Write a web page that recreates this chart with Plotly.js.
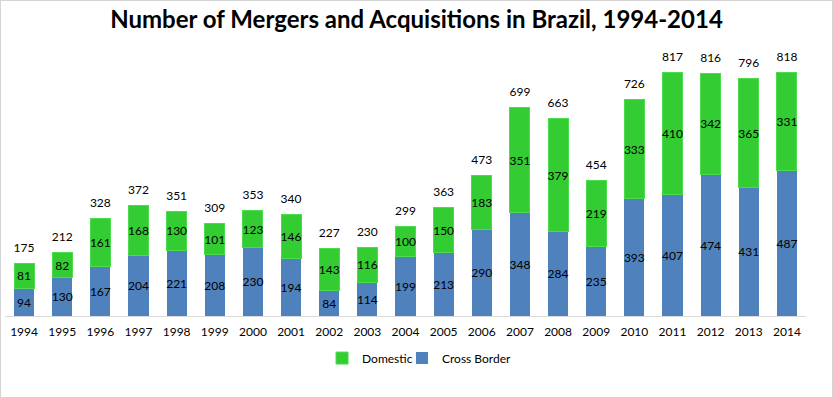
<!DOCTYPE html>
<html>
<head>
<meta charset="utf-8">
<script src="https://cdn.plot.ly/plotly-3.0.1.min.js"></script>
<style>
html,body{margin:0;padding:0;background:#fff;}
#frame{position:absolute;left:0;top:0;width:831px;height:396px;border:1px solid #d4d4d4;pointer-events:none;}
#chart{width:833px;height:398px;}
</style>
</head>
<body>
<div id="chart"></div>
<div id="frame"></div>
<script>
const years = ['1994','1995','1996','1997','1998','1999','2000','2001','2002','2003','2004','2005','2006','2007','2008','2009','2010','2011','2012','2013','2014'];
const crossBorder = [94,130,167,204,221,208,230,194,84,114,199,213,290,348,284,235,393,407,474,431,487];
const domestic = [81,82,161,168,130,101,123,146,143,116,100,150,183,351,379,219,333,410,342,365,331];
const totals = [175,212,328,372,351,309,353,340,227,230,299,363,473,699,663,454,726,817,816,796,818];

const FONT = 'Lato, "Open Sans", sans-serif';

const traces = [
  {
    type: 'bar', name: 'Cross Border', x: years, y: crossBorder, legend: 'legend2',
    marker: {color: '#4f81bd'},
    text: crossBorder.map(String), textposition: 'inside', insidetextanchor: 'middle',
    constraintext: 'none',
    textangle: 0, textfont: {color: '#000', size: 12, family: FONT},
    hoverinfo: 'skip'
  },
  {
    type: 'bar', name: 'Domestic', x: years, y: domestic, legend: 'legend',
    marker: {color: '#33cc33', line: {color: '#4ddc4d', width: 1}},
    text: domestic.map(String), textposition: 'inside', insidetextanchor: 'middle',
    constraintext: 'none',
    textangle: 0, textfont: {color: '#000', size: 12, family: FONT},
    hoverinfo: 'skip'
  },
  {
    type: 'scatter', mode: 'markers+text', x: years, y: totals,
    marker: {size: 12, opacity: 0},
    text: totals.map(String), textposition: 'top center',
    textfont: {color: '#000', size: 12, family: FONT},
    showlegend: false, hoverinfo: 'skip', cliponaxis: false
  }
];

const legendBase = {
  orientation: 'h', xref: 'paper', xanchor: 'left', y: -0.157, yanchor: 'middle',
  font: {family: FONT, size: 12, color: '#000'}, itemwidth: 30, bgcolor: 'rgba(0,0,0,0)'
};

const layout = {
  width: 833, height: 398,
  margin: {l: 5, r: 27, t: 48, b: 82, autoexpand: false},
  paper_bgcolor: '#fff', plot_bgcolor: '#fff',
  barmode: 'stack', bargap: 0.475,
  title: {text: 'Number of Mergers and Acquisitions in Brazil, 1994-2014',
          font: {family: FONT, size: 24, color: '#000', weight: 'bold'},
          x: 0.5, xanchor: 'center', y: 0.95, yanchor: 'middle'},
  xaxis: {
    type: 'category', range: [-0.5, 20.5], autorange: false,
    showgrid: false, showline: true, linecolor: '#d9d9d9', linewidth: 1,
    ticks: '', ticklabelstandoff: 5,
    tickfont: {family: FONT, size: 12, color: '#000'}, fixedrange: true, automargin: false
  },
  yaxis: {
    range: [0, 900], autorange: false, visible: false, showgrid: false, zeroline: false, fixedrange: true
  },
  legend: Object.assign({}, legendBase, {x: 0.3958}),
  legend2: Object.assign({}, legendBase, {x: 0.4956}),
  showlegend: true
};

Plotly.newPlot('chart', traces, layout, {displayModeBar: false, staticPlot: true});
</script>
</body>
</html>
